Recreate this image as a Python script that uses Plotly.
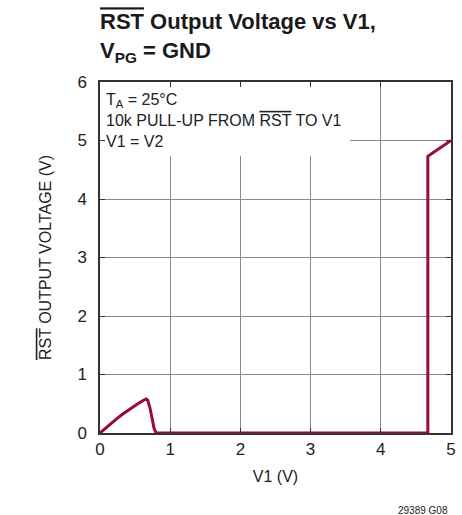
import plotly.graph_objects as go

# Data
v1 = [0.0, 0.08, 0.16, 0.24, 0.32, 0.40, 0.48, 0.56, 0.62, 0.655, 0.68, 0.71, 0.74, 0.77, 0.80, 4.67, 4.67, 5.0]
vout = [0.0, 0.085, 0.165, 0.245, 0.32, 0.39, 0.455, 0.515, 0.56, 0.58, 0.56, 0.44, 0.26, 0.08, 0.0, 0.0, 4.73, 5.0]

x_ticks = [0, 1, 2, 3, 4, 5]
y_ticks = [0, 1, 2, 3, 4, 5, 6]

FONT = "Liberation Sans Narrow, Arial Narrow, Liberation Sans, Arial, sans-serif"
LINE_COLOR = "#990a38"
AXIS_COLOR = "#333333"
GRID_COLOR = "#8a8a8a"
OL = '<span style="text-decoration:overline">RST</span>'

fig = go.Figure()
fig.add_trace(go.Scatter(x=v1, y=vout, mode="lines",
                         line=dict(color=LINE_COLOR, width=3),
                         showlegend=False, hoverinfo="skip"))

# white box behind the condition text (covers grid, like the reference)
fig.add_shape(type="rect", xref="x", yref="y", x0=0, x1=3.56, y0=4.74, y1=6,
              fillcolor="white", line=dict(width=0), layer="between")

fig.add_annotation(xref="paper", yref="paper", x=0.012, y=0.981,
                   xanchor="left", yanchor="top", align="left", showarrow=False,
                   text="T<sub>A</sub> = 25°C<br>10k PULL-UP FROM " + OL + " TO V1<br>V1 = V2",
                   font=dict(family=FONT, size=16, color="#222222"))

fig.add_annotation(xref="paper", yref="paper", x=0.997, y=-0.2,
                   xanchor="right", yanchor="top", showarrow=False,
                   text="29389 G08", font=dict(family=FONT, size=10, color="#222222"))

fig.update_layout(
    template="none",
    width=462, height=515,
    margin=dict(l=100, r=11, t=82, b=82, autoexpand=False),
    paper_bgcolor="white", plot_bgcolor="white",
    font=dict(family=FONT, color="#222222"),
    title=dict(text="<b>" + OL + " Output Voltage vs V1,<br>V<sub>PG</sub> = GND</b>",
               x=0, xref="paper", xanchor="left", y=0.943, yanchor="top",
               font=dict(family=FONT, size=22, color="#1a1a1a")),
)

fig.update_xaxes(range=[0, 5], tickvals=x_ticks, ticks="inside", ticklen=5,
                 tickcolor=AXIS_COLOR, showline=True, linecolor=AXIS_COLOR, linewidth=1.5,
                 mirror="ticks", showgrid=True, gridcolor=GRID_COLOR, gridwidth=1,
                 zeroline=False, automargin=False,
                 tickfont=dict(size=17, family=FONT, color="#222222"),
                 title=dict(text="V1 (V)", font=dict(size=16, family=FONT, color="#222222"), standoff=13))
fig.update_yaxes(range=[0, 6], tickvals=y_ticks, ticks="inside", ticklen=5,
                 tickcolor=AXIS_COLOR, showline=True, linecolor=AXIS_COLOR, linewidth=1.5,
                 mirror="ticks", showgrid=True, gridcolor=GRID_COLOR, gridwidth=1,
                 zeroline=False, automargin=False, ticklabelstandoff=8,
                 tickfont=dict(size=17, family=FONT, color="#222222"),
                 title=dict(text=OL + " OUTPUT VOLTAGE (V)",
                            font=dict(size=16, family=FONT, color="#222222"), standoff=22))

fig.write_html("out.html", config={"displayModeBar": False},
               post_script="document.body.style.margin='0';")
